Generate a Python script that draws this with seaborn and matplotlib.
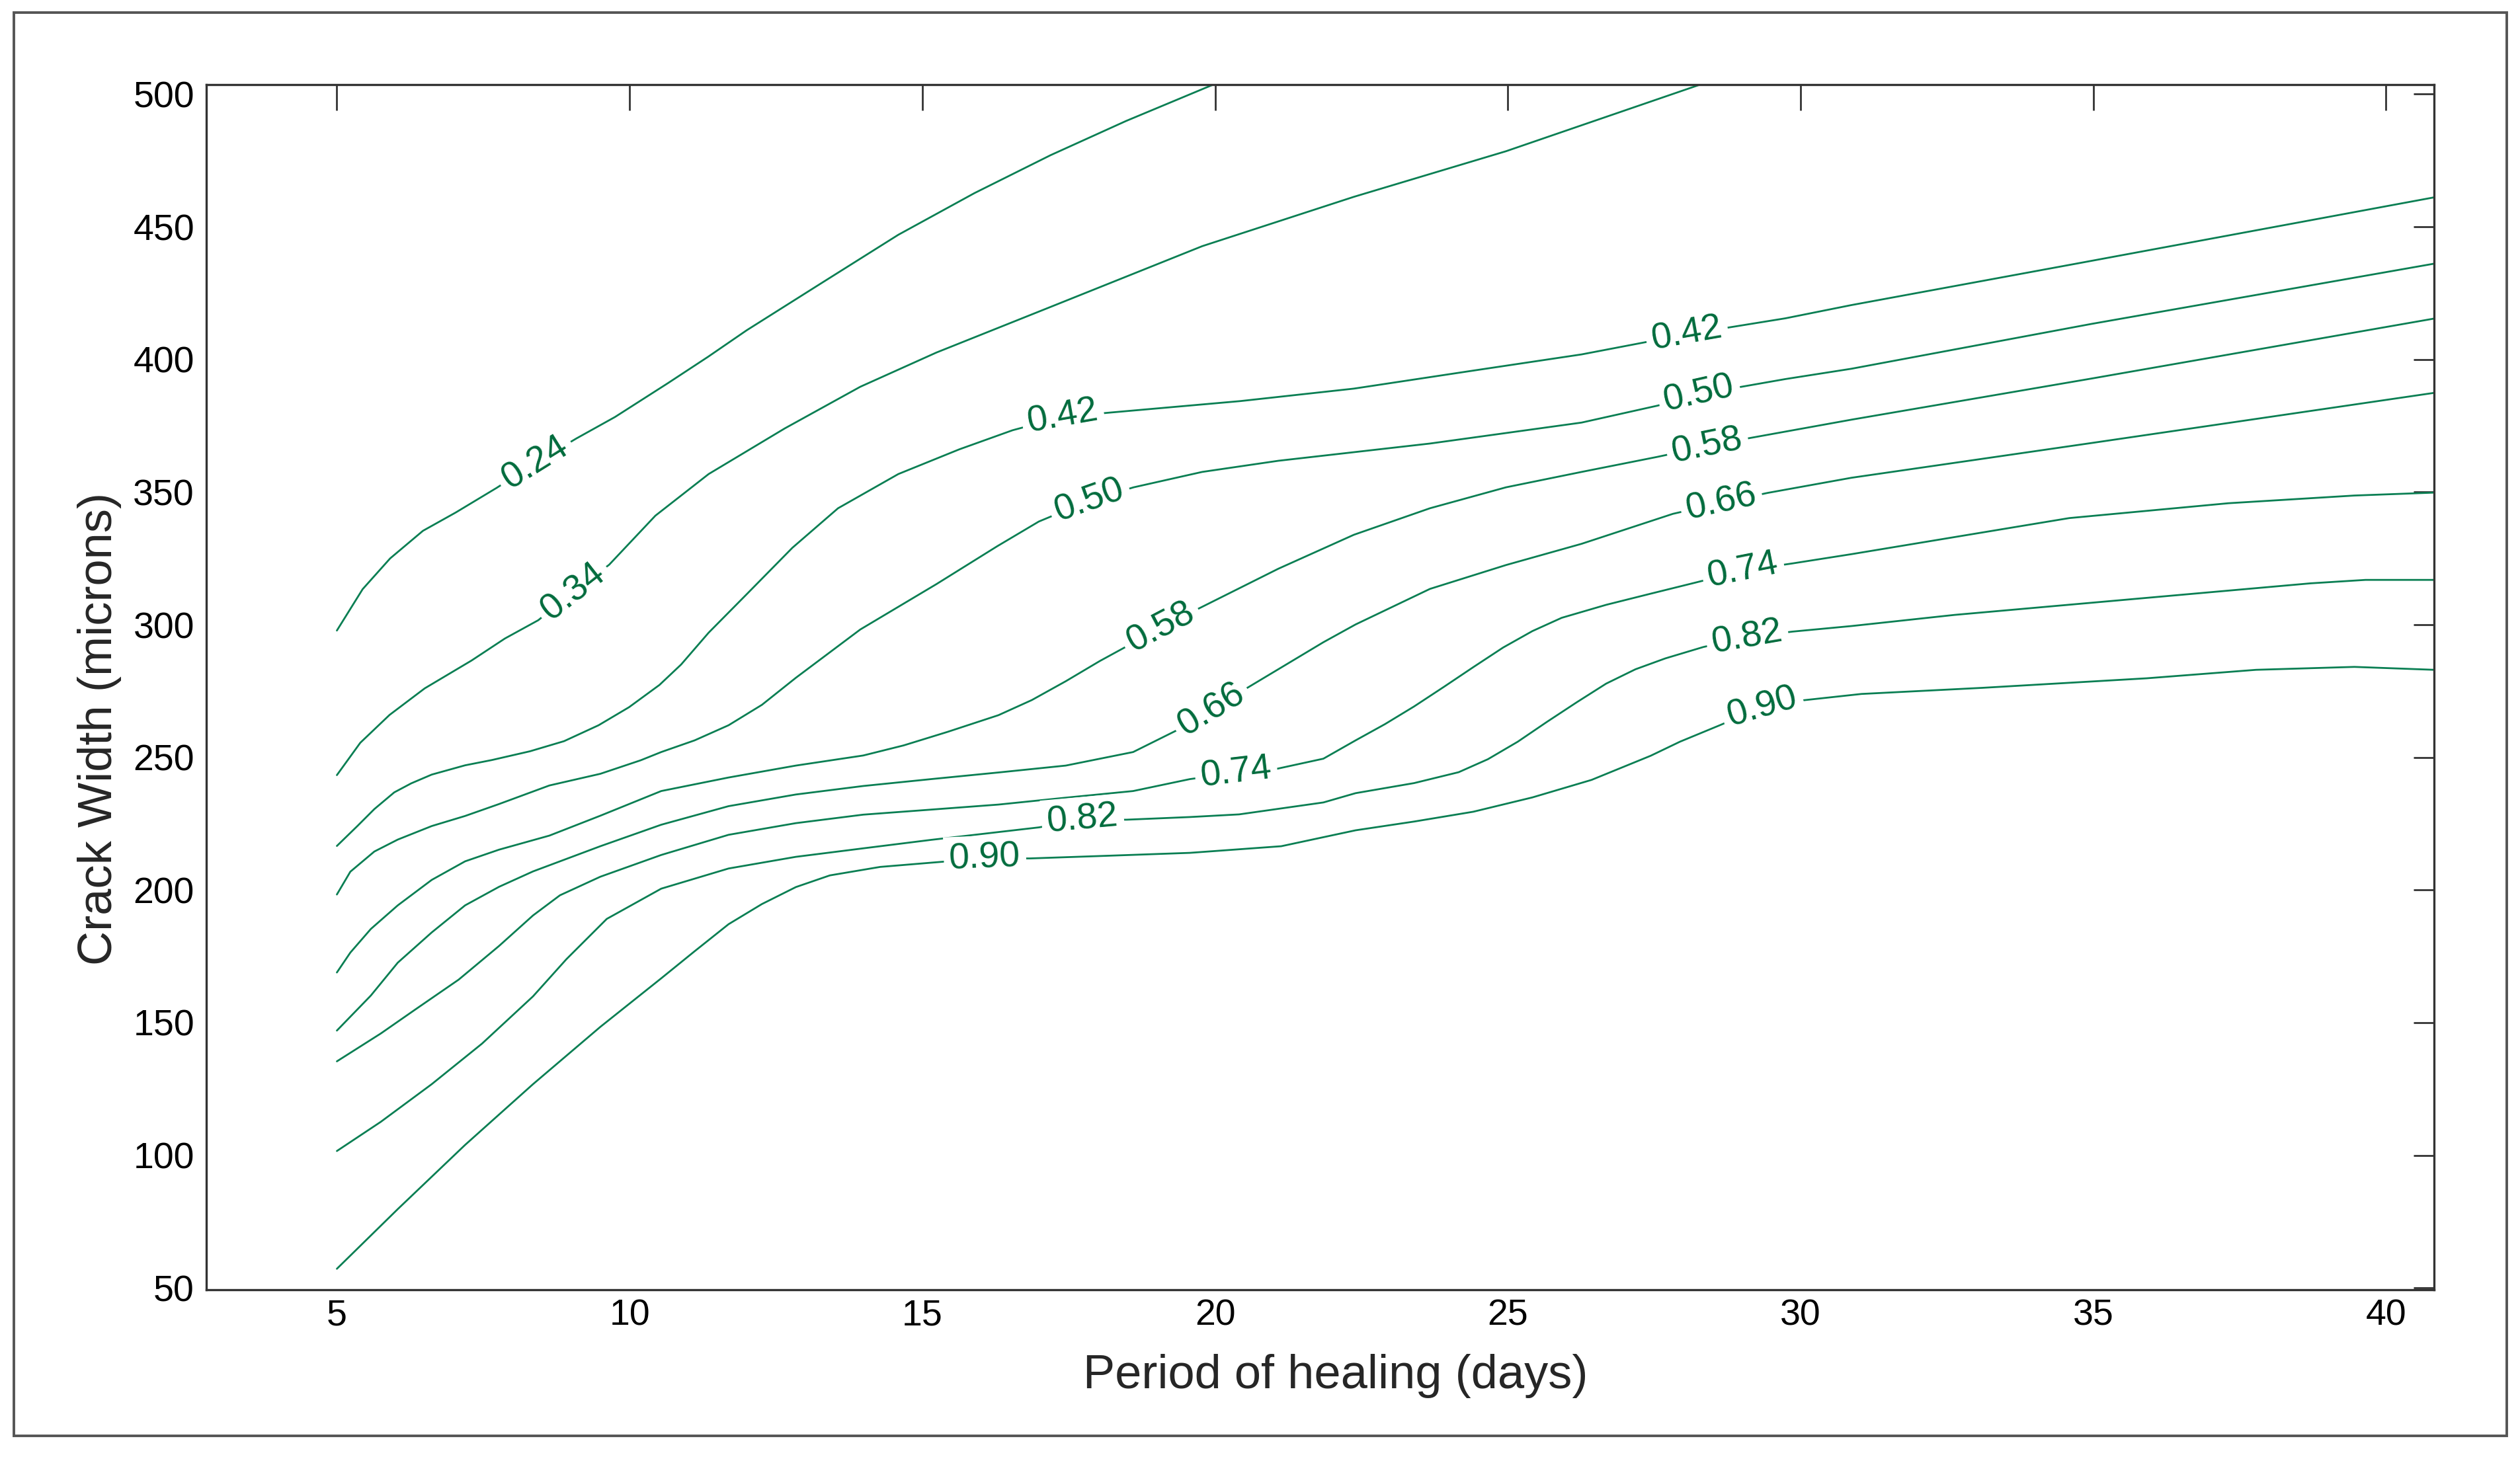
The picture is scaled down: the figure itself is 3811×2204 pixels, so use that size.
import numpy as np
import pandas as pd
import matplotlib.pyplot as plt
import seaborn as sns
from matplotlib.patches import Rectangle

sns.set_style('white')
plt.rcParams['font.family'] = ['Liberation Sans', 'DejaVu Sans']

# contour levels: (period of healing, crack width)
days_024 = [5.0, 5.44, 5.91, 6.47, 7.03, 7.73, 8.39, 9.09, 9.75, 10.65, 11.34, 12.0, 13.3, 14.59,
            15.89, 17.19, 18.48, 20.0, 20.3]
width_024 = [297.8, 313.4, 325.0, 335.4, 342.3, 351.6, 361.0, 370.2, 378.3, 391.0, 401.0, 411.0, 429.1,
             447.0, 462.7, 477.0, 489.9, 503.9, 506.6]

days_034 = [5.0, 5.4, 5.9, 6.5, 7.3, 7.87, 8.44, 9.04, 9.65, 10.44, 11.35, 12.65, 13.94, 15.24, 17.19,
            19.78, 22.37, 24.97, 28.27, 28.6]
width_034 = [243.3, 255.5, 266.0, 276.0, 286.5, 294.8, 301.7, 312.5, 322.6, 341.1, 356.8, 374.0, 389.7,
             402.6, 419.8, 442.7, 461.3, 478.5, 503.5, 506.0]

days_042 = [5.0, 5.35, 5.64, 5.98, 6.27, 6.62, 7.19, 7.65, 8.30, 8.88, 9.47, 9.99, 10.51, 10.88, 11.35,
            12.0, 12.78, 13.56, 14.59, 15.63, 16.54, 17.38, 18.22, 20.43, 22.37, 24.32, 26.26, 28.06,
            29.74, 30.87, 34.78, 40.82]
width_042 = [216.6, 224.1, 230.5, 236.8, 240.2, 243.5, 247.0, 249.0, 252.3, 256.1, 262.1, 268.9, 277.3,
             285.0, 297.0, 311.5, 329.0, 343.9, 356.8, 366.1, 373.3, 378.3, 380.0, 384.3, 389.0, 395.5,
             401.9, 409.5, 415.5, 420.5, 436.4, 461.1]

days_050 = [5.0, 5.23, 5.64, 6.04, 6.62, 7.19, 7.77, 8.63, 9.50, 10.19, 10.54, 11.11, 11.69, 12.26,
            12.84, 13.94, 15.24, 16.28, 16.99, 17.85, 18.61, 19.78, 21.08, 23.67, 26.26, 27.56, 28.27,
            29.74, 30.87, 34.97, 40.82]
width_050 = [198.3, 206.9, 214.5, 219.0, 224.1, 227.9, 232.4, 239.4, 243.8, 248.9, 252.0, 256.4, 262.1,
             269.8, 280.0, 298.2, 315.3, 329.6, 338.9, 346.8, 351.8, 357.6, 361.8, 368.3, 376.2, 382.6,
             386.9, 392.6, 396.5, 413.4, 436.1]

days_058 = [5.0, 5.23, 5.58, 6.04, 6.62, 7.19, 7.77, 8.63, 9.50, 10.54, 11.69, 12.84, 13.99, 14.68,
            15.43, 16.30, 16.87, 17.45, 18.03, 18.47, 19.08, 19.73, 21.08, 22.37, 23.67, 24.97, 26.26,
            27.56, 28.41, 29.09, 30.87, 34.97, 40.82]
width_058 = [168.9, 176.4, 185.3, 194.2, 203.8, 210.8, 215.2, 220.5, 228.0, 237.3, 242.4, 246.9, 250.7,
             254.5, 259.6, 265.9, 271.6, 278.7, 286.3, 291.6, 299.0, 306.2, 321.1, 333.9, 343.9, 351.8,
             357.6, 363.3, 367.3, 370.2, 377.3, 392.8, 415.4]

days_066 = [5.0, 5.58, 6.04, 6.62, 7.19, 7.77, 8.35, 9.50, 10.54, 11.69, 12.84, 13.99, 15.15, 16.30,
            17.45, 18.60, 19.41, 19.94, 20.55, 21.85, 22.40, 23.67, 24.97, 26.26, 27.82, 28.65, 29.44,
            30.87, 34.97, 40.82]
width_066 = [147.0, 160.2, 172.6, 184.0, 194.2, 201.2, 207.0, 216.5, 224.6, 231.6, 236.0, 239.2, 241.8,
             244.3, 246.9, 252.0, 260.9, 268.0, 276.2, 293.4, 300.1, 313.5, 322.5, 330.5, 341.8, 346.0,
             349.7, 355.4, 368.5, 387.4]

days_074 = [5.0, 5.75, 6.33, 7.08, 7.77, 8.35, 8.81, 9.50, 10.54, 11.69, 12.84, 13.99, 15.15, 16.30,
            17.45, 18.60, 19.57, 20.37, 21.06, 21.85, 22.40, 22.90, 23.40, 23.91, 24.41, 24.92, 25.42,
            25.92, 26.68, 27.44, 28.19, 29.02, 29.86, 30.87, 34.59, 37.31, 39.46, 40.82]
width_074 = [135.4, 145.9, 154.8, 166.2, 178.9, 190.4, 198.0, 205.0, 213.2, 220.8, 225.2, 228.4, 230.3,
             232.2, 234.8, 237.3, 241.8, 244.2, 245.7, 249.5, 256.4, 262.5, 269.2, 276.6, 284.0, 291.4,
             297.6, 302.6, 307.5, 311.7, 315.8, 320.4, 323.1, 326.6, 340.2, 345.8, 348.7, 349.8]

days_082 = [5.0, 5.75, 6.62, 7.48, 8.35, 8.92, 9.61, 10.54, 11.69, 12.84, 13.99, 15.15, 16.99, 17.74,
            18.49, 19.57, 20.41, 21.85, 22.40, 23.40, 24.16, 24.66, 25.17, 25.67, 26.18, 26.68, 27.18,
            27.69, 28.34, 29.08, 29.86, 30.87, 32.63, 35.44, 38.71, 39.65, 40.82]
width_082 = [101.6, 112.6, 126.8, 142.1, 159.9, 173.9, 189.1, 200.5, 208.1, 212.5, 215.7, 218.9, 223.6,
             226.5, 226.5, 227.5, 228.5, 233.0, 236.5, 240.3, 244.4, 249.3, 255.9, 263.4, 270.8, 277.8,
             283.2, 287.3, 291.6, 295.2, 297.4, 299.5, 303.7, 309.2, 315.6, 316.9, 316.9]

days_090 = [5.0, 6.04, 7.19, 8.35, 9.50, 10.54, 11.11, 11.69, 12.26, 12.84, 13.42, 14.28, 15.32, 16.07,
            16.84, 18.03, 19.57, 21.13, 22.40, 23.40, 24.41, 25.42, 26.43, 27.44, 27.94, 28.62, 29.34,
            30.04, 31.04, 33.1, 35.91, 37.78, 39.46, 40.82]
width_090 = [57.2, 79.7, 103.9, 126.8, 148.4, 166.7, 176.9, 187.1, 194.7, 201.1, 205.5, 208.7, 210.6,
             211.9, 211.9, 212.8, 214.0, 216.5, 222.5, 225.8, 229.5, 234.9, 241.5, 250.6, 255.9, 262.1,
             268.9, 271.5, 273.9, 276.2, 279.8, 283.0, 284.1, 283.0]

levels = ['0.24', '0.34', '0.42', '0.50', '0.58', '0.66', '0.74', '0.82', '0.90']
curves = {
    '0.24': (days_024, width_024),
    '0.34': (days_034, width_034),
    '0.42': (days_042, width_042),
    '0.50': (days_050, width_050),
    '0.58': (days_058, width_058),
    '0.66': (days_066, width_066),
    '0.74': (days_074, width_074),
    '0.82': (days_082, width_082),
    '0.90': (days_090, width_090),
}
# where the inline labels sit along each curve (days)
label_days = {
    '0.24': [8.39], '0.34': [9.04],
    '0.42': [17.40, 28.06], '0.50': [17.86, 28.27], '0.58': [19.08, 28.41],
    '0.66': [19.94, 28.65], '0.74': [20.36, 29.02], '0.82': [17.74, 29.09],
    '0.90': [16.07, 29.35],
}

x_ticks = [5, 10, 15, 20, 25, 30, 35, 40]
y_ticks = [50, 100, 150, 200, 250, 300, 350, 400, 450, 500]

line_color = '#0a7f53'
label_color = '#006b3c'

df = pd.concat([pd.DataFrame({'days': d, 'width': w, 'level': lv})
                for lv, (d, w) in curves.items()], ignore_index=True)

fig = plt.figure(figsize=(3811 / 200, 2204 / 200), dpi=200)
ax = fig.add_axes([0.08187, 0.11479, 0.88402, 0.82713])

sns.lineplot(data=df, x='days', y='width', units='level', estimator=None, sort=False,
             color=line_color, lw=1.0, ax=ax, legend=False)
for ln in ax.lines:
    ln.set_solid_joinstyle('round')

ax.set_xlim(2.77, 40.82)
ax.set_ylim(49.3, 503.6)
ax.set_xticks(x_ticks)
ax.set_yticks(y_ticks)

ax.tick_params(direction='in', top=True, right=True, labelsize=20, color='#333333',
               width=1.0, labelcolor='black')
ax.tick_params(axis='x', length=14, pad=4.8)
ax.tick_params(axis='y', length=11, pad=6.5)
for sp in ax.spines.values():
    sp.set_color('#333333')
    sp.set_linewidth(1.2)

ax.set_xlabel('Period of healing (days)', fontsize=26, va='center')
ax.set_ylabel('Crack Width (microns)', fontsize=26, va='center')
ax.xaxis.set_label_coords(0.507, -0.0715)
ax.yaxis.set_label_coords(-0.0478, 0.4655)

# inline contour labels, rotated along the curve
for lv in levels:
    xs, ys = curves[lv]
    for x0 in label_days[lv]:
        y0 = np.interp(x0, xs, ys)
        dx = 0.35
        p = ax.transData.transform([(x0 - dx, np.interp(x0 - dx, xs, ys)),
                                    (x0 + dx, np.interp(x0 + dx, xs, ys))])
        ang = np.degrees(np.arctan2(p[1, 1] - p[0, 1], p[1, 0] - p[0, 0]))
        ax.text(x0, y0, lv, fontsize=20, color=label_color, rotation=ang,
                rotation_mode='anchor', ha='center', va='center', zorder=5,
                bbox=dict(boxstyle='square,pad=0.15', fc='white', ec='none'))

# thin outer frame around the whole picture
fig.patches.append(Rectangle((0.0055, 0.0145), 0.9892, 0.9769, transform=fig.transFigure,
                             fill=False, ec='#555555', lw=1.4))

fig.savefig('out.png', dpi=200)
